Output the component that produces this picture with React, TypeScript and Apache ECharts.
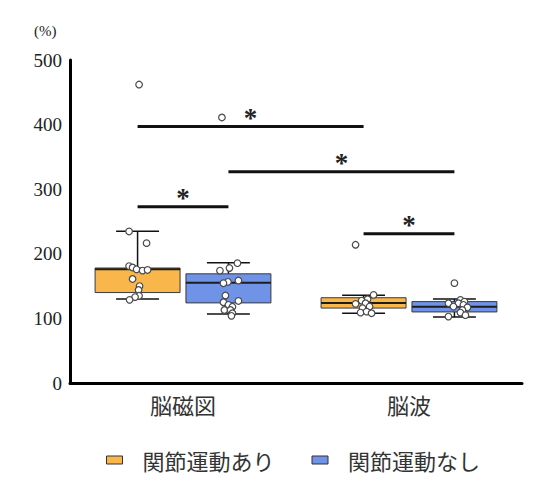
import React, { useEffect, useRef } from "react";
import * as echarts from "echarts";

const categories = ["脳磁図", "脳波"];
const seriesNames = ["関節運動あり", "関節運動なし"];
const yTicks = [0, 100, 200, 300, 400, 500];

// [categoryIndex, whiskerLow, Q1, median, Q3, whiskerHigh]
const boxWith = [
  [0, 130, 140, 176, 178, 235],
  [1, 108, 116, 124, 132, 136],
];
const boxWithout = [
  [0, 107, 124, 155, 169, 186],
  [1, 102, 110, 118, 126, 130],
];

// individual observations: [categoryIndex, value]
const pointsWith = [
  [0, 462], [0, 234.6], [0, 216.5], [0, 181], [0, 178.8], [0, 176], [0, 174], [0, 175],
  [0, 161], [0, 150], [0, 144], [0, 135], [0, 133], [0, 128.7],
  [1, 214], [1, 136.4], [1, 129.7], [1, 127.6], [1, 122.5], [1, 123.5], [1, 118.3],
  [1, 115.8], [1, 109], [1, 110.5], [1, 108],
];
const pointsWithout = [
  [0, 411], [0, 185.5], [0, 178], [0, 174], [0, 158.6], [0, 156.6], [0, 154.5], [0, 135.4],
  [0, 127], [0, 125], [0, 121], [0, 118], [0, 113], [0, 113], [0, 108], [0, 104],
  [1, 154.6], [1, 128.7], [1, 126], [1, 123.5], [1, 123.5], [1, 121], [1, 118.3],
  [1, 117], [1, 113], [1, 109], [1, 105], [1, 102.8],
];
// horizontal jitter of each point (px), same order as the points above
const jitterWith = [
  1.5, -8.5, 9, -8.5, -5, -1, 5, 10, -5, 2, 1, 1.5, -2.5, -8,
  -8, 10, 4, -2, -8, 2, 6, -1, -3, 3, 8,
];
const jitterWithout = [
  -6.5, 9, 1, -8.5, 10, -0.5, -5, -3, 10, -5, 0, 4, -4, 2, 4, 3,
  0, 6, 10, -6, 4, 9, -1, 13, 8, 6, 11, -6,
];

// significance brackets: [fromCategory, fromSeries, toCategory, toSeries, yValue]
const brackets = [
  [0, 0, 1, 0, 397],
  [0, 1, 1, 1, 327],
  [0, 0, 0, 1, 273],
  [1, 0, 1, 1, 231],
];

const colors = ["#F9B74B", "#6F93E6"];
const offsets = [-0.201, 0.201];
const boxFrac = 0.376;
const capFrac = 0.19;
const serif = "Liberation Serif";

function boxRender(seriesIdx: number) {
  return (params: any, api: any) => {
    const cat = api.value(0);
    const band = api.size([1, 0])[0];
    const cx = api.coord([cat, 0])[0] + offsets[seriesIdx] * band;
    const y = (v: number) => api.coord([cat, v])[1];
    const w = boxFrac * band;
    const cw = capFrac * band;
    const lo = y(api.value(1));
    const q1 = y(api.value(2));
    const med = y(api.value(3));
    const q3 = y(api.value(4));
    const hi = y(api.value(5));
    const ls = { stroke: "#111", lineWidth: 1.5 };
    return {
      type: "group",
      children: [
        { type: "line", shape: { x1: cx, y1: q3, x2: cx, y2: hi }, style: ls },
        { type: "line", shape: { x1: cx, y1: q1, x2: cx, y2: lo }, style: ls },
        { type: "line", shape: { x1: cx - cw / 2, y1: hi, x2: cx + cw / 2, y2: hi }, style: ls },
        { type: "line", shape: { x1: cx - cw / 2, y1: lo, x2: cx + cw / 2, y2: lo }, style: ls },
        {
          type: "rect",
          shape: { x: cx - w / 2, y: q3, width: w, height: q1 - q3 },
          style: { fill: colors[seriesIdx], stroke: "#3a3a3a", lineWidth: 1 },
        },
        {
          type: "line",
          shape: { x1: cx - w / 2, y1: med, x2: cx + w / 2, y2: med },
          style: { stroke: "#1d1d1d", lineWidth: 2 },
        },
      ],
    };
  };
}

function pointRender(seriesIdx: number, jitter: number[]) {
  return (params: any, api: any) => {
    const cat = api.value(0);
    const band = api.size([1, 0])[0];
    const p = api.coord([cat, api.value(1)]);
    const cx = p[0] + offsets[seriesIdx] * band + jitter[params.dataIndex];
    return {
      type: "circle",
      shape: { cx, cy: p[1], r: 3.3 },
      style: { fill: "#fff", stroke: "#4a4a4a", lineWidth: 1.2 },
    };
  };
}

function bracketRender(params: any, api: any) {
  const band = api.size([1, 0])[0];
  const v = api.value(4);
  const x1 = api.coord([api.value(0), v])[0] + offsets[api.value(1)] * band;
  const x2 = api.coord([api.value(2), v])[0] + offsets[api.value(3)] * band;
  const yy = api.coord([api.value(0), v])[1];
  return {
    type: "group",
    children: [
      { type: "line", shape: { x1, y1: yy, x2, y2: yy }, style: { stroke: "#111", lineWidth: 3 } },
      {
        type: "text",
        style: {
          x: (x1 + x2) / 2,
          y: yy - 9,
          text: "*",
          fill: "#222",
          fontFamily: serif,
          fontSize: 27,
          fontWeight: "bold",
          align: "center",
          verticalAlign: "middle",
        },
      },
    ],
  };
}

export default function App() {
  const ref = useRef<HTMLDivElement>(null);
  useEffect(() => {
    if (!ref.current) return;
    const chart = echarts.init(ref.current, null, { renderer: "svg" });
    chart.setOption({
      animation: false,
      backgroundColor: "#fff",
      grid: { left: 62, top: 52, width: 452, height: 323 },
      graphic: [
        {
          type: "text",
          left: 26,
          top: 15,
          style: { text: "(%)", fontFamily: serif, fontSize: 15, fill: "#222" },
        },
      ],
      legend: {
        left: 93,
        top: 436,
        icon: "rect",
        itemWidth: 16,
        itemHeight: 8,
        itemGap: 37,
        textStyle: {
          fontFamily: "Noto Sans CJK JP",
          fontSize: 22,
          color: "#333",
          padding: [0, 0, 0, 15],
        },
        data: seriesNames.map((n, i) => ({
          name: n,
          itemStyle: { color: colors[i], borderColor: "#333", borderWidth: 1 },
        })),
      },
      xAxis: {
        type: "category",
        data: categories,
        axisLine: { lineStyle: { color: "#000", width: 3 } },
        axisTick: { show: false },
        axisLabel: {
          fontFamily: "Noto Sans CJK JP",
          fontSize: 22,
          color: "#333",
          margin: 10,
        },
      },
      yAxis: {
        type: "value",
        min: 0,
        max: 500,
        interval: 100,
        axisLine: { show: true, lineStyle: { color: "#000", width: 3 } },
        axisTick: { show: false },
        splitLine: { show: false },
        axisLabel: {
          fontFamily: serif,
          fontSize: 19,
          color: "#222",
          margin: 8,
          formatter: (v: number) => (yTicks.includes(v) ? String(v) : ""),
        },
      },
      series: [
        {
          name: seriesNames[0],
          type: "custom",
          renderItem: boxRender(0),
          encode: { x: 0, y: [1, 2, 3, 4, 5] },
          itemStyle: { color: colors[0] },
          data: boxWith,
          z: 2,
        },
        {
          name: seriesNames[1],
          type: "custom",
          renderItem: boxRender(1),
          encode: { x: 0, y: [1, 2, 3, 4, 5] },
          itemStyle: { color: colors[1] },
          data: boxWithout,
          z: 2,
        },
        {
          name: "points1",
          type: "custom",
          renderItem: pointRender(0, jitterWith),
          encode: { x: 0, y: 1 },
          data: pointsWith,
          z: 3,
        },
        {
          name: "points2",
          type: "custom",
          renderItem: pointRender(1, jitterWithout),
          encode: { x: 0, y: 1 },
          data: pointsWithout,
          z: 3,
        },
        {
          name: "brackets",
          type: "custom",
          renderItem: bracketRender,
          encode: { x: 0, y: 4 },
          data: brackets,
          z: 4,
        },
      ],
    });
    return () => chart.dispose();
  }, []);
  return <div ref={ref} style={{ width: 550, height: 494 }} />;
}
